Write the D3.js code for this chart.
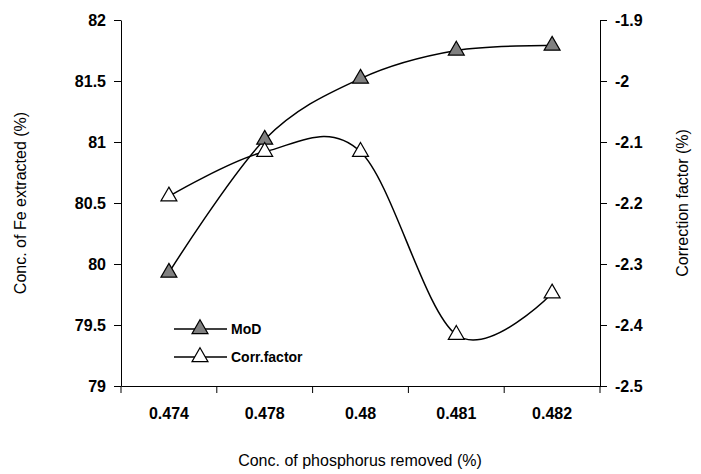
<!DOCTYPE html>
<html><head><meta charset="utf-8">
<script src="https://cdn.jsdelivr.net/npm/d3@7"></script>
<style>body{margin:0;background:#fff}text{font-family:"Liberation Sans",Arial,sans-serif}</style>
</head><body><svg id="c" width="701" height="474"></svg>
<script>
const categories = ["0.474", "0.478", "0.48", "0.481", "0.482"];
const modValues = [79.93, 81.02, 81.52, 81.75, 81.79];
const corrValues = [-2.189, -2.116, -2.116, -2.416, -2.348];
const leftTicks = [79, 79.5, 80, 80.5, 81, 81.5, 82];
const rightTicks = [-2.5, -2.4, -2.3, -2.2, -2.1, -2, -1.9];

const L = 121, R = 600, T = 20, B = 386;
const svg = d3.select("#c");
const x = d3.scaleBand().domain(categories).range([L, R]);
const yL = d3.scaleLinear().domain([79, 82]).range([B, T]);
const yR = d3.scaleLinear().domain([-2.5, -1.9]).range([B, T]);

const fmt = d => String(d);
const axL = svg.append("g").attr("transform", `translate(${L},0)`)
  .call(d3.axisLeft(yL).tickValues(leftTicks).tickFormat(fmt).tickSize(7).tickSizeOuter(0));
const axR = svg.append("g").attr("transform", `translate(${R},0)`)
  .call(d3.axisRight(yR).tickValues(rightTicks).tickFormat(fmt).tickSize(7).tickSizeOuter(0));
const axB = svg.append("g").attr("transform", `translate(0,${B})`)
  .call(d3.axisBottom(x).tickSize(0).tickPadding(22));
// bottom ticks at band edges
svg.append("g").selectAll("line").data(categories.concat(["end"])).join("line")
  .attr("x1", (d, i) => L + i * x.step()).attr("x2", (d, i) => L + i * x.step())
  .attr("y1", B).attr("y2", B + 7).attr("stroke", "#000");
[axL, axR, axB].forEach(a => {
  a.selectAll("path,line").attr("stroke", "#000");
  a.selectAll("text").attr("font-size", 16).attr("font-weight", "bold").attr("fill", "#000");
});
axL.selectAll("text").attr("dx", -5);
axR.selectAll("text").attr("dx", 5);

const cx = d => x(d) + x.bandwidth() / 2;
const line = (vals, y) => d3.line().curve(d3.curveCardinal)
  .x((d, i) => cx(categories[i])).y(d => y(d))(vals);
svg.append("path").attr("d", line(modValues, yL)).attr("fill", "none").attr("stroke", "#000").attr("stroke-width", 1.5);
svg.append("path").attr("d", line(corrValues, yR)).attr("fill", "none").attr("stroke", "#000").attr("stroke-width", 1.5);

const tri = d3.symbol().type(d3.symbolTriangle).size(110);
svg.append("g").selectAll("path").data(modValues).join("path")
  .attr("d", tri).attr("transform", (d, i) => `translate(${cx(categories[i])},${yL(d)})`)
  .attr("fill", "#808080").attr("stroke", "#000").attr("stroke-width", 1.2);
svg.append("g").selectAll("path").data(corrValues).join("path")
  .attr("d", tri).attr("transform", (d, i) => `translate(${cx(categories[i])},${yR(d)})`)
  .attr("fill", "#fff").attr("stroke", "#000").attr("stroke-width", 1.2);

// legend
const legend = [["MoD", "#808080"], ["Corr.factor", "#fff"]];
const lg = svg.append("g").selectAll("g").data(legend).join("g")
  .attr("transform", (d, i) => `translate(174,${329 + i * 28})`);
lg.append("line").attr("x1", 0).attr("x2", 53).attr("stroke", "#000").attr("stroke-width", 1.5);
lg.append("path").attr("d", tri).attr("transform", "translate(26,0)")
  .attr("fill", d => d[1]).attr("stroke", "#000").attr("stroke-width", 1.2);
lg.append("text").attr("x", 57).attr("dy", "0.35em").attr("font-size", 14).attr("font-weight", "bold").text(d => d[0]);

svg.append("text").attr("x", 360).attr("y", 466).attr("text-anchor", "middle").attr("font-size", 16).text("Conc. of phosphorus removed (%)");
svg.append("text").attr("transform", `translate(26,${(T + B) / 2}) rotate(-90)`).attr("text-anchor", "middle").attr("font-size", 16).text("Conc. of Fe extracted (%)");
svg.append("text").attr("transform", `translate(688,${(T + B) / 2}) rotate(-90)`).attr("text-anchor", "middle").attr("font-size", 16).text("Correction factor (%)");
</script></body></html>
